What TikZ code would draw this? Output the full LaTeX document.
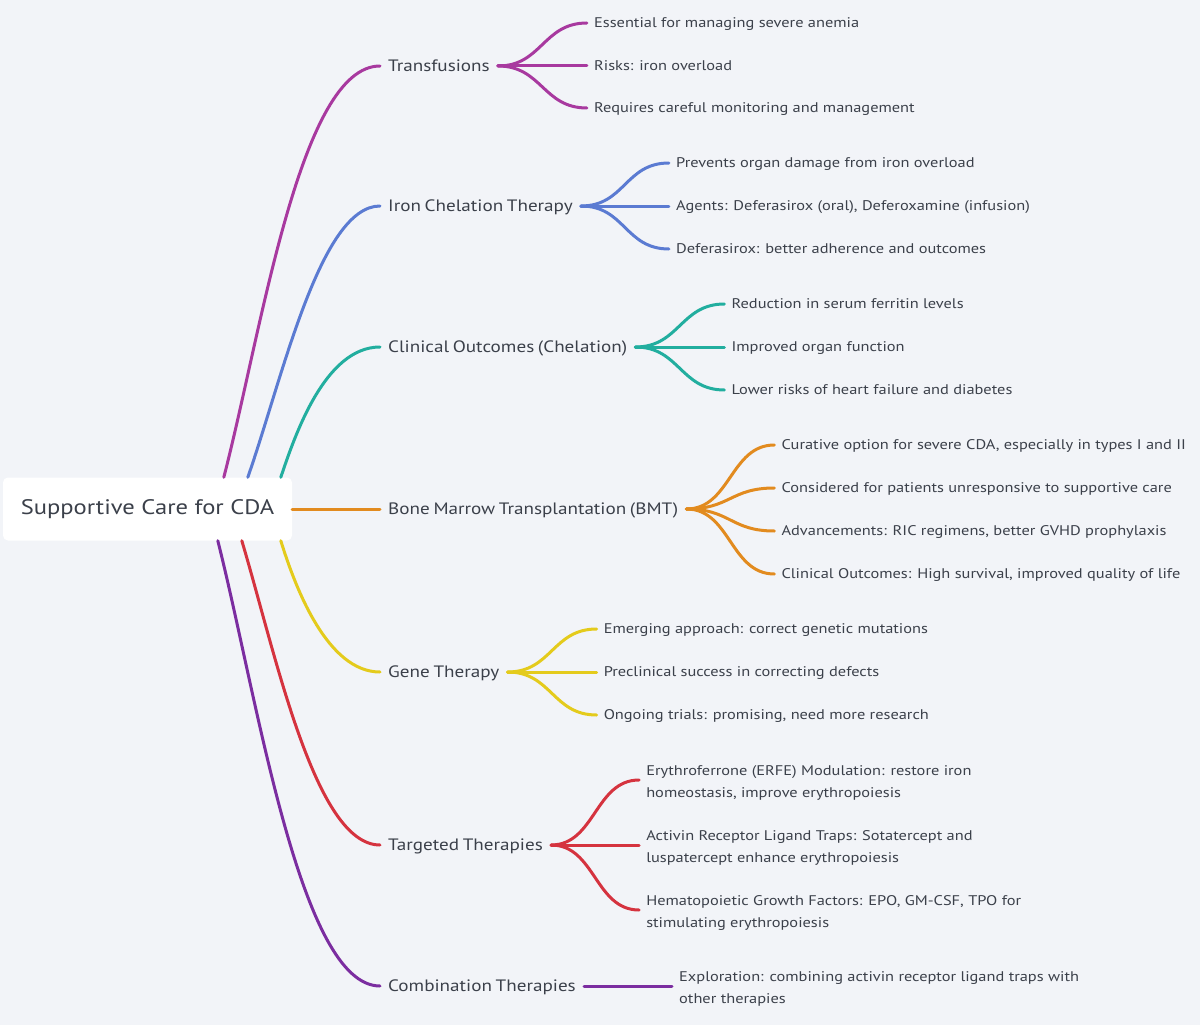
\documentclass[tikz,border=0pt]{standalone}
\usepackage{fontspec}
\setmainfont{PT Sans}[FakeStretch=1.17]
\newfontfamily\lvonefont{PT Sans}[FakeStretch=1.16, WordSpace=0.72]
\usetikzlibrary{calc}
\definecolor{bg}{HTML}{F2F4F8}
\definecolor{txt}{HTML}{3B404A}
\definecolor{cTr}{HTML}{A8399F}
\definecolor{cIr}{HTML}{5B7BD2}
\definecolor{cCl}{HTML}{22AE9F}
\definecolor{cBm}{HTML}{E28B1F}
\definecolor{cGe}{HTML}{E4CB1C}
\definecolor{cTa}{HTML}{D5333F}
\definecolor{cCo}{HTML}{7B2DA0}
\begin{document}
\begin{tikzpicture}[x=1pt,y=-1pt,
  rootbox/.style={draw=none, fill=white, rounded corners=5pt, minimum width=289pt, minimum height=63pt, inner sep=0pt, font=\fontsize{21}{25}\selectfont, text=txt},
  lvone/.style={anchor=west, inner xsep=8pt, inner ysep=0pt, text height=10.5pt, text depth=0pt, font=\lvonefont\fontsize{16.5}{20}\selectfont, text=txt},
  lvtwobase/.style={anchor=west, inner xsep=7pt, inner ysep=0pt, font=\fontsize{14}{22}\selectfont, text=txt, align=left},
  lvtwo/.style={lvtwobase, text height=8.4pt, text depth=0pt},
  link/.style={line width=3pt, line cap=round},
]
\fill[bg] (0,0) rectangle (1200,1025);
\useasboundingbox (0,0) rectangle (1200,1025);

% root
\node[rootbox] (root) at (147.5,509) {Supportive Care for CDA};

% level one
\node[lvone] (t1) at (380,66) {Transfusions};
\node[lvone] (t2) at (380,206) {Iron Chelation Therapy};
\node[lvone] (t3) at (380,347) {Clinical Outcomes (Chelation)};
\node[lvone] (t4) at (380,509) {Bone Marrow Transplantation (BMT)};
\node[lvone] (t5) at (380,672) {Gene Therapy};
\node[lvone] (t6) at (380,845) {Targeted Therapies};
\node[lvone] (t7) at (380,986) {Combination Therapies};

% root connectors
\draw[link,cTr] ([xshift=221pt]root.north west) .. controls (262,330) and +(-80,0) .. (t1.west);
\draw[link,cIr] ([xshift=245pt]root.north west) .. controls (282,380) and +(-60,0) .. (t2.west);
\draw[link,cCl] ([xshift=278pt]root.north west) .. controls (295,435) and +(-55,0) .. (t3.west);
\draw[link,cBm] (root.east) -- (t4.west);
\draw[link,cGe] ([xshift=278pt]root.south west) .. controls (296,590) and +(-52,0) .. (t5.west);
\draw[link,cTa] ([xshift=239pt]root.south west) .. controls (276,655) and +(-65,0) .. (t6.west);
\draw[link,cCo] ([xshift=215pt]root.south west) .. controls (258,700) and +(-80,0) .. (t7.west);

% level two: Transfusions
\node[lvtwo] (t1a) at ($(t1.east)+(89,-43)$) {Essential for managing severe anemia};
\node[lvtwo] (t1b) at ($(t1.east)+(89,0)$) {Risks: iron overload};
\node[lvtwo] (t1c) at ($(t1.east)+(89,42)$) {Requires careful monitoring and management};
% Iron chelation
\node[lvtwo] (t2a) at ($(t2.east)+(88,-43)$) {Prevents organ damage from iron overload};
\node[lvtwo] (t2b) at ($(t2.east)+(88,0)$) {Agents: Deferasirox (oral), Deferoxamine (infusion)};
\node[lvtwo] (t2c) at ($(t2.east)+(88,43)$) {Deferasirox: better adherence and outcomes};
% Clinical outcomes
\node[lvtwo] (t3a) at ($(t3.east)+(89,-43)$) {Reduction in serum ferritin levels};
\node[lvtwo] (t3b) at ($(t3.east)+(89,0)$) {Improved organ function};
\node[lvtwo] (t3c) at ($(t3.east)+(89,43)$) {Lower risks of heart failure and diabetes};
% BMT
\node[lvtwo] (t4a) at ($(t4.east)+(88,-64)$) {Curative option for severe CDA, especially in types I and II};
\node[lvtwo] (t4b) at ($(t4.east)+(88,-21)$) {Considered for patients unresponsive to supportive care};
\node[lvtwo] (t4c) at ($(t4.east)+(88,22)$) {Advancements: RIC regimens, better GVHD prophylaxis};
\node[lvtwo] (t4d) at ($(t4.east)+(88,65)$) {Clinical Outcomes: High survival, improved quality of life};
% Gene therapy
\node[lvtwo] (t5a) at ($(t5.east)+(89,-43)$) {Emerging approach: correct genetic mutations};
\node[lvtwo] (t5b) at ($(t5.east)+(89,0)$) {Preclinical success in correcting defects};
\node[lvtwo] (t5c) at ($(t5.east)+(89,43)$) {Ongoing trials: promising, need more research};
% Targeted
\node[lvtwobase] (t6a) at ($(t6.east)+(88,-62)$) {Erythroferrone (ERFE) Modulation: restore iron\\homeostasis, improve erythropoiesis};
\node[lvtwobase] (t6b) at ($(t6.east)+(88,3)$) {Activin Receptor Ligand Traps: Sotatercept and\\luspatercept enhance erythropoiesis};
\node[lvtwobase] (t6c) at ($(t6.east)+(88,68)$) {Hematopoietic Growth Factors: EPO, GM-CSF, TPO for\\stimulating erythropoiesis};
% Combination
\node[lvtwobase] (t7a) at ($(t7.east)+(88,3)$) {Exploration: combining activin receptor ligand traps with\\other therapies};

% level two connectors
\foreach \p/\c/\col in {t1/t1a/cTr,t1/t1b/cTr,t1/t1c/cTr,
                        t2/t2a/cIr,t2/t2b/cIr,t2/t2c/cIr,
                        t3/t3a/cCl,t3/t3b/cCl,t3/t3c/cCl,
                        t4/t4a/cBm,t4/t4b/cBm,t4/t4c/cBm,t4/t4d/cBm,
                        t5/t5a/cGe,t5/t5b/cGe,t5/t5c/cGe}
  \draw[link,\col] (\p.east) .. controls +(44,0) and +(-44,0) .. (\c.west);
\foreach \c in {t6a,t6b,t6c}
  \draw[link,cTa] (t6.east) .. controls +(44,0) and +(-44,0) .. ([yshift=3pt]\c.west);
\draw[link,cCo] (t7.east) -- ([yshift=3pt]t7a.west);
\end{tikzpicture}
\end{document}
